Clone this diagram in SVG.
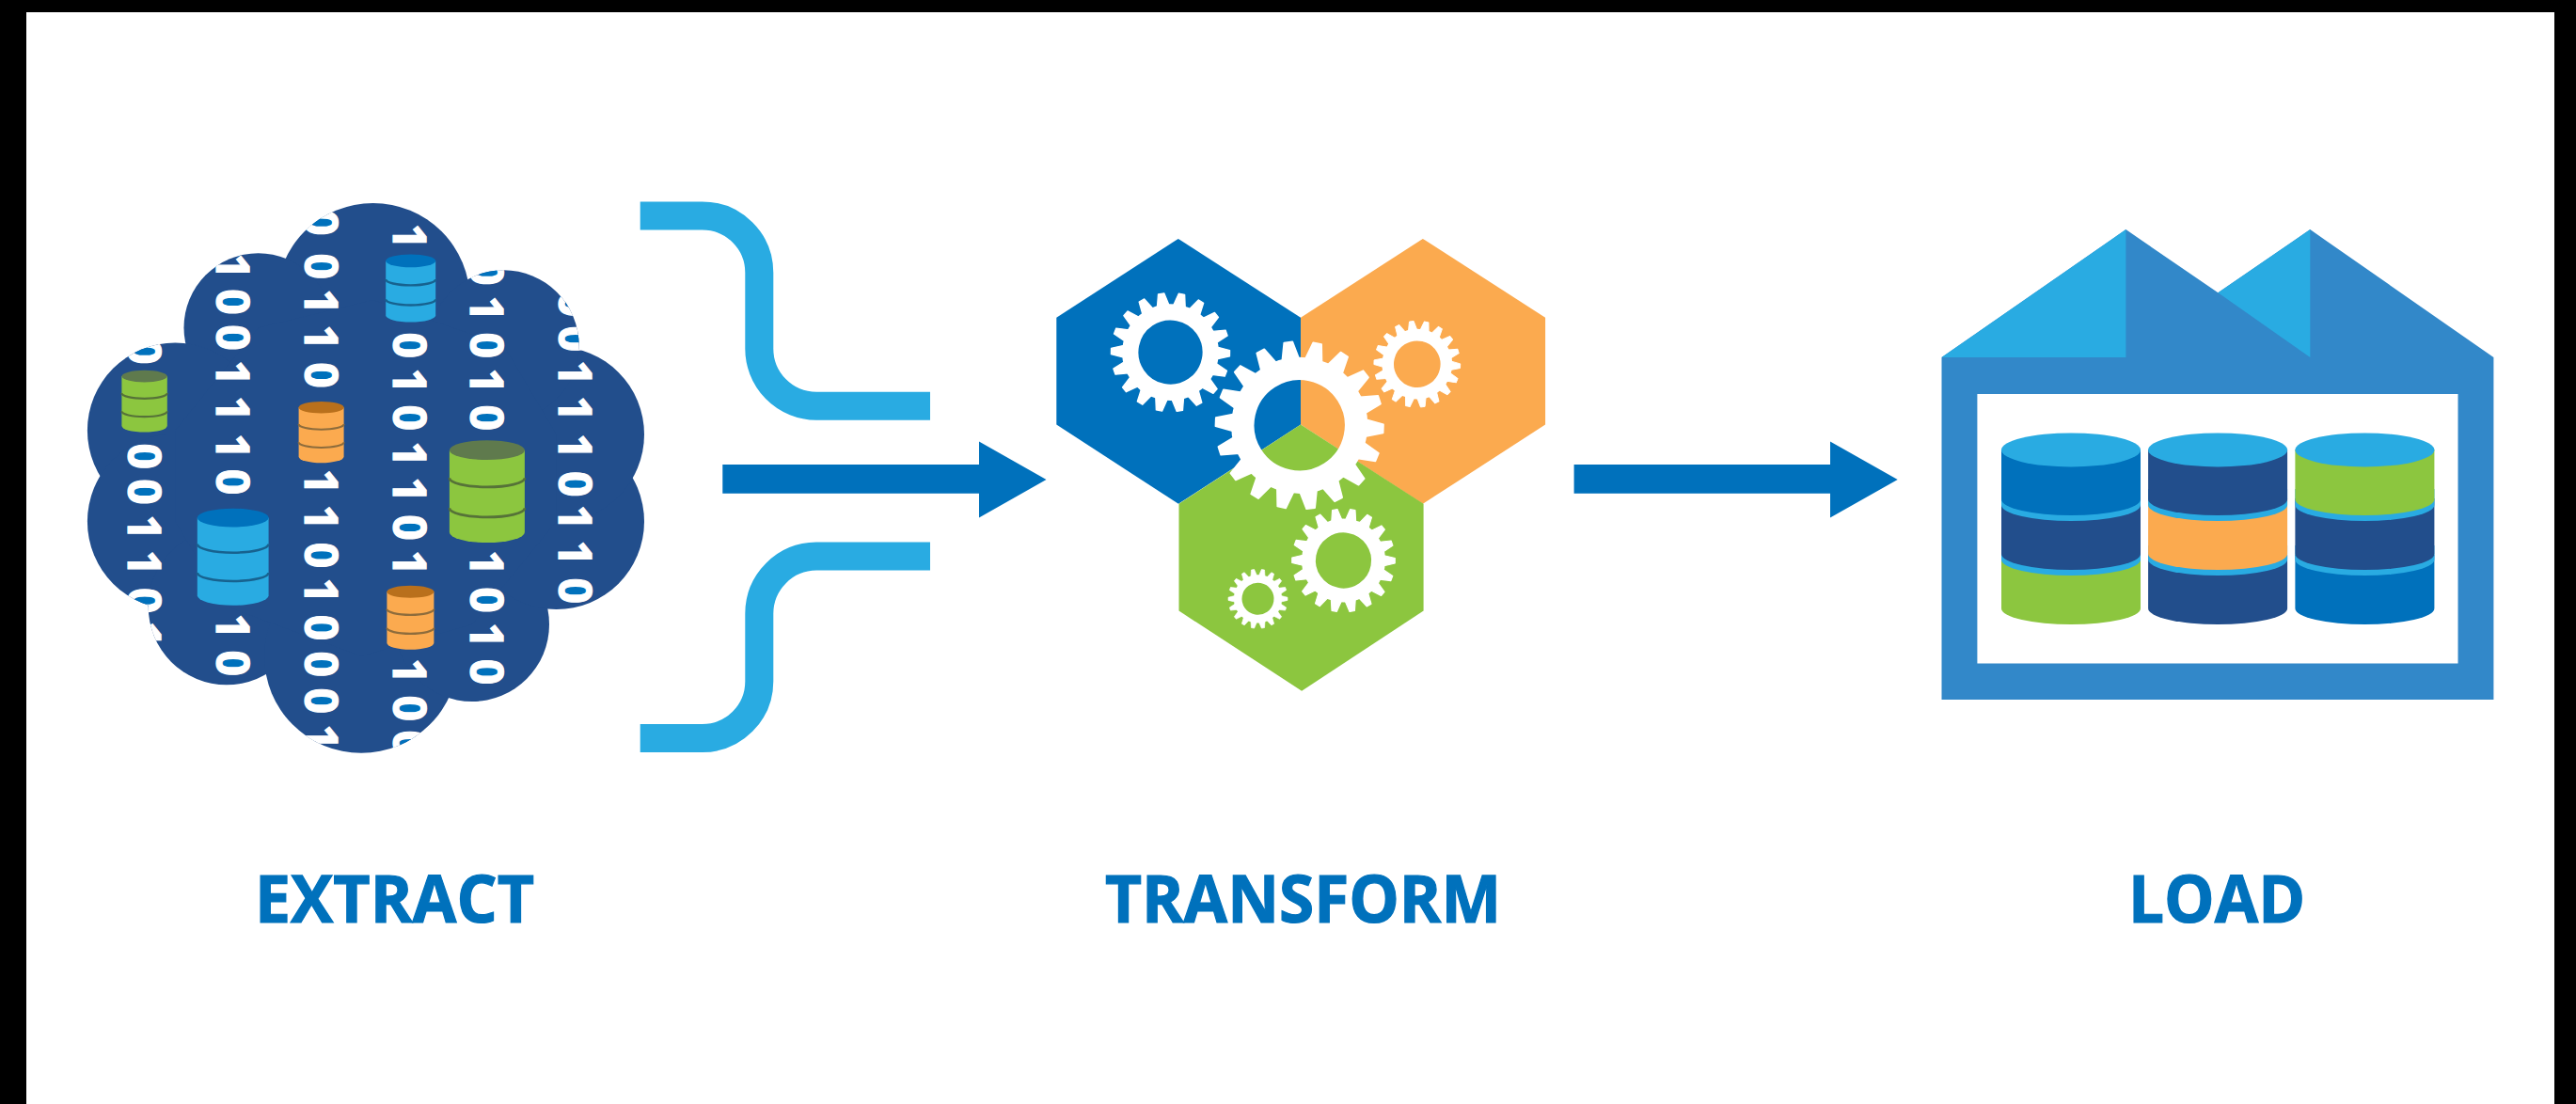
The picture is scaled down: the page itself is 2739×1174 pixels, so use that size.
<svg xmlns="http://www.w3.org/2000/svg" xmlns:xlink="http://www.w3.org/1999/xlink" width="2739" height="1174" viewBox="0 0 2739 1174">
<style>
.bit{font-family:"Open Sans","Liberation Sans",sans-serif;font-weight:700;font-size:48px;fill:#fff;stroke:#fff;stroke-width:1.2}
.label{font-family:"Open Sans","Liberation Sans",sans-serif;font-weight:700;font-size:69px;fill:#0071bc;stroke:#0071bc;stroke-width:1.2}
.feed{fill:none;stroke:#29abe2;stroke-width:30}
.main{fill:#0071bc}
.cloud{fill:#224e8c}
.counter{fill:#0071bc}
.band{fill:none;stroke-width:2.6}
</style>
<defs>
<g id="lobes">
<circle cx="396.7" cy="318.9" r="103"/><circle cx="274.6" cy="348.4" r="79.1"/><circle cx="186.3" cy="457.8" r="93.4"/><circle cx="186.3" cy="554.6" r="93.4"/><circle cx="241" cy="645" r="83.3"/><circle cx="384.1" cy="697.7" r="103.1"/><circle cx="501.9" cy="664" r="82.1"/><circle cx="591.6" cy="554.6" r="93.4"/><circle cx="591.6" cy="462" r="93.4"/><circle cx="535.6" cy="367.3" r="80"/>
<polygon points="396.7,318.9 274.6,348.4 186.3,457.8 186.3,554.6 241,645 384.1,697.7 501.9,664 591.6,554.6 591.6,462 535.6,367.3"/>
</g>
<clipPath id="cloudClip">
<circle cx="396.7" cy="318.9" r="103"/><circle cx="274.6" cy="348.4" r="79.1"/><circle cx="186.3" cy="457.8" r="93.4"/><circle cx="186.3" cy="554.6" r="93.4"/><circle cx="241" cy="645" r="83.3"/><circle cx="384.1" cy="697.7" r="103.1"/><circle cx="501.9" cy="664" r="82.1"/><circle cx="591.6" cy="554.6" r="93.4"/><circle cx="591.6" cy="462" r="93.4"/><circle cx="535.6" cy="367.3" r="80"/>
<polygon points="396.7,318.9 274.6,348.4 186.3,457.8 186.3,554.6 241,645 384.1,697.7 501.9,664 591.6,554.6 591.6,462 535.6,367.3"/>
</clipPath>
<path id="cylBody" d="M0 13V122A50 14 0 0 0 100 122V13Z"/>
<ellipse id="cylTop" cx="50" cy="13" rx="50" ry="13"/>
<path id="cylBands" d="M0 50A50 12 0 0 0 100 50M0 90A50 12 0 0 0 100 90"/>
<polygon id="tooth" points="-10,-78 -5,-99 5,-99 10,-78" stroke="#fff" stroke-width="2" stroke-linejoin="round"/>
<g id="teeth3"><use xlink:href="#tooth"/><use xlink:href="#tooth" transform="rotate(20)"/><use xlink:href="#tooth" transform="rotate(40)"/></g>
<g id="teeth9"><use xlink:href="#teeth3"/><use xlink:href="#teeth3" transform="rotate(60)"/><use xlink:href="#teeth3" transform="rotate(120)"/></g>
<g id="gear" fill="#fff"><circle r="67" fill="none" stroke="#fff" stroke-width="27"/><use xlink:href="#teeth9"/><use xlink:href="#teeth9" transform="rotate(180)"/></g>
<path id="seg1" d="M0 478V531A74 17 0 0 0 148 531V478Z"/>
<path id="ring1" d="M0 520V537A74 17 0 0 0 148 537V520Z"/>
<path id="seg2" d="M0 530V589A74 17 0 0 0 148 589V530Z"/>
<path id="ring2" d="M0 580V595A74 17 0 0 0 148 595V580Z"/>
<path id="seg3" d="M0 590V647A74 17 0 0 0 148 647V590Z"/>
<ellipse id="stackTop" cx="74" cy="478.4" rx="74" ry="18"/>
</defs>
<rect width="2739" height="1174" fill="#fff"/>
<rect width="2739" height="13" fill="#000"/>
<rect width="28" height="1174" fill="#000"/>
<rect x="2716" width="23" height="1174" fill="#000"/>

<g id="extract">
<use xlink:href="#lobes" class="cloud"/>
<g clip-path="url(#cloudClip)">
<g class="counter">
<ellipse cx="153.4" cy="373.6" rx="12" ry="6.5"/><ellipse cx="153.4" cy="485.1" rx="12" ry="6.5"/><ellipse cx="153.4" cy="523" rx="12" ry="6.5"/><ellipse cx="153.4" cy="638.8" rx="12" ry="6.5"/>
<ellipse cx="247.3" cy="321" rx="12" ry="6.5"/><ellipse cx="247.3" cy="358.9" rx="12" ry="6.5"/><ellipse cx="247.3" cy="512.5" rx="12" ry="6.5"/><ellipse cx="247.3" cy="705.3" rx="12" ry="6.5"/>
<ellipse cx="341.1" cy="236.8" rx="12" ry="6.5"/><ellipse cx="341.1" cy="283.1" rx="12" ry="6.5"/><ellipse cx="341.1" cy="398.9" rx="12" ry="6.5"/><ellipse cx="341.1" cy="590.4" rx="12" ry="6.5"/><ellipse cx="341.1" cy="667.4" rx="12" ry="6.5"/><ellipse cx="341.1" cy="706.1" rx="12" ry="6.5"/><ellipse cx="341.1" cy="745.2" rx="12" ry="6.5"/>
<ellipse cx="435" cy="367.3" rx="12" ry="6.5"/><ellipse cx="435" cy="444.3" rx="12" ry="6.5"/><ellipse cx="435" cy="560.9" rx="12" ry="6.5"/><ellipse cx="435" cy="753.2" rx="12" ry="6.5"/><ellipse cx="435" cy="790.3" rx="12" ry="6.5"/>
<ellipse cx="517.3" cy="289.8" rx="12" ry="6.5"/><ellipse cx="517.3" cy="367.3" rx="12" ry="6.5"/><ellipse cx="517.3" cy="444.3" rx="12" ry="6.5"/><ellipse cx="517.3" cy="637.9" rx="12" ry="6.5"/><ellipse cx="517.3" cy="714.5" rx="12" ry="6.5"/>
<ellipse cx="611.3" cy="323.1" rx="12" ry="6.5"/><ellipse cx="611.3" cy="360.1" rx="12" ry="6.5"/><ellipse cx="611.3" cy="514.6" rx="12" ry="6.5"/><ellipse cx="611.3" cy="628.2" rx="12" ry="6.5"/>
</g>
<text class="bit" transform="translate(136.4 0) rotate(90)" x="359.9 471.4 509.3 547.2 585.1 625.1 660.8">0001101</text>
<text class="bit" transform="translate(230.3 0) rotate(90)" x="269.4 307.3 345.2 383.1 420.9 460.9 498.8 652.4 691.6">100111010</text>
<text class="bit" transform="translate(324.1 0) rotate(90)" x="223.1 269.4 307.3 345.2 385.2 498.8 536.7 576.7 614.5 653.7 692.4 731.5 770.2">0011011010001</text>
<text class="bit" transform="translate(418 0) rotate(90)" x="237.8 353.6 391.5 430.6 469.3 507.2 547.2 585.1 700 739.5 776.6">10101101100</text>
<text class="bit" transform="translate(500.3 0) rotate(90)" x="276.1 314.4 353.6 391.5 430.6 585.1 624.2 662.1 700.8">010101010</text>
<text class="bit" transform="translate(594.3 0) rotate(90)" x="309.4 346.4 383.1 420.9 460.9 500.9 536.7 574.6 614.5">001110110</text>
</g>
<g transform="translate(410.2 270.5) scale(.53)"><use xlink:href="#cylBody" fill="#29abe2"/><use xlink:href="#cylTop" fill="#0071bc"/><use xlink:href="#cylBands" class="band" stroke="#17628f" style="stroke-width:4.5"/></g>
<g transform="translate(129.4 393.8) scale(.484)"><use xlink:href="#cylBody" fill="#8cc63f"/><use xlink:href="#cylTop" fill="#5f7a4d"/><use xlink:href="#cylBands" class="band" stroke="#567238" style="stroke-width:4.5"/></g>
<g transform="translate(317.6 427) scale(.48)"><use xlink:href="#cylBody" fill="#fbaa4f"/><use xlink:href="#cylTop" fill="#b9701c"/><use xlink:href="#cylBands" class="band" stroke="#8d6c3c" style="stroke-width:4.5"/></g>
<g transform="translate(411.4 622.8) scale(.5)"><use xlink:href="#cylBody" fill="#fbaa4f"/><use xlink:href="#cylTop" fill="#b9701c"/><use xlink:href="#cylBands" class="band" stroke="#8d6c3c" style="stroke-width:4.5"/></g>
<g transform="translate(477.9 468.3) scale(.8)"><use xlink:href="#cylBody" fill="#8cc63f"/><use xlink:href="#cylTop" fill="#5f7a4d"/><use xlink:href="#cylBands" class="band" stroke="#567238" style="stroke-width:3.4"/></g>
<g transform="translate(209.8 540.7) scale(.758)"><use xlink:href="#cylBody" fill="#29abe2"/><use xlink:href="#cylTop" fill="#0071bc"/><use xlink:href="#cylBands" class="band" stroke="#17628f" style="stroke-width:3.4"/></g>
<text class="label" x="271" y="981" textLength="297" lengthAdjust="spacingAndGlyphs">EXTRACT</text>
</g>

<g id="connectors">
<path class="feed" d="M680.7 229.4H746.7A60.6 60.6 0 0 1 807.3 290V370A61 61 0 0 0 868 431.8H989"/>
<path class="feed" d="M680.7 785H746.7A60.6 60.6 0 0 0 807.3 724.4V652.6A61 61 0 0 1 868 591.6H989"/>
<polygon class="main" points="768.3,494.1 1041,494.1 1041,469.6 1112.5,510 1041,550.4 1041,524.7 768.3,524.7"/>
<polygon class="main" points="1673.6,494.1 1946,494.1 1946,469.6 2017.7,510 1946,550.4 1946,524.7 1673.6,524.7"/>
</g>

<g id="transform">
<polygon fill="#0071bc" points="1252.8,253.9 1383,337.8 1383,451.6 1253,535.8 1123.3,451.6 1123.3,337.8"/>
<polygon fill="#fbaa4f" points="1512.9,253.9 1383,337.8 1383,451.6 1512.9,535.8 1643.1,451.6 1643.1,337.8"/>
<polygon fill="#8cc63f" points="1383,451.6 1513.6,535.8 1513.6,649.6 1384.1,734.8 1253.5,649.6 1253.5,535.8"/>
<use xlink:href="#gear" transform="translate(1244.5 374.6) rotate(11) scale(.637)"/>
<use xlink:href="#gear" transform="translate(1506.8 387.2) rotate(12.5) scale(.463)"/>
<use xlink:href="#gear" transform="translate(1428.5 596) rotate(10.3) scale(.553)"/>
<use xlink:href="#gear" transform="translate(1337.5 636.8) rotate(10) scale(.318)"/>
<use xlink:href="#gear" transform="translate(1381.7 452.3) rotate(12.3) scale(.9)"/>
<text class="label" x="1175" y="981" textLength="421" lengthAdjust="spacingAndGlyphs">TRANSFORM</text>
</g>

<g id="load">
<polygon fill="#3288c9" points="2064.5,380.1 2260.4,244.1 2358.4,311.3 2456.3,244.1 2651.4,380.1 2651.4,744.1 2064.5,744.1"/>
<polygon fill="#29abe2" points="2064.5,380.1 2260.4,244.1 2260.4,380.1"/>
<polygon fill="#29abe2" points="2358.4,311.3 2456.3,244.1 2456.3,380.1"/>
<rect x="2102.4" y="419" width="511.1" height="286.5" fill="#fff"/>
<g transform="translate(2128 0)"><use xlink:href="#seg3" fill="#8cc63f"/><use xlink:href="#ring2" fill="#29abe2"/><use xlink:href="#seg2" fill="#224e8c"/><use xlink:href="#ring1" fill="#29abe2"/><use xlink:href="#seg1" fill="#0071bc"/><use xlink:href="#stackTop" fill="#29abe2"/></g>
<g transform="translate(2284.1 0)"><use xlink:href="#seg3" fill="#224e8c"/><use xlink:href="#ring2" fill="#29abe2"/><use xlink:href="#seg2" fill="#fbaa4f"/><use xlink:href="#ring1" fill="#29abe2"/><use xlink:href="#seg1" fill="#224e8c"/><use xlink:href="#stackTop" fill="#29abe2"/></g>
<g transform="translate(2440.4 0)"><use xlink:href="#seg3" fill="#0071bc"/><use xlink:href="#ring2" fill="#29abe2"/><use xlink:href="#seg2" fill="#224e8c"/><use xlink:href="#ring1" fill="#29abe2"/><use xlink:href="#seg1" fill="#8cc63f"/><use xlink:href="#stackTop" fill="#29abe2"/></g>
<text class="label" x="2263" y="981" textLength="188" lengthAdjust="spacingAndGlyphs">LOAD</text>
</g>
</svg>
